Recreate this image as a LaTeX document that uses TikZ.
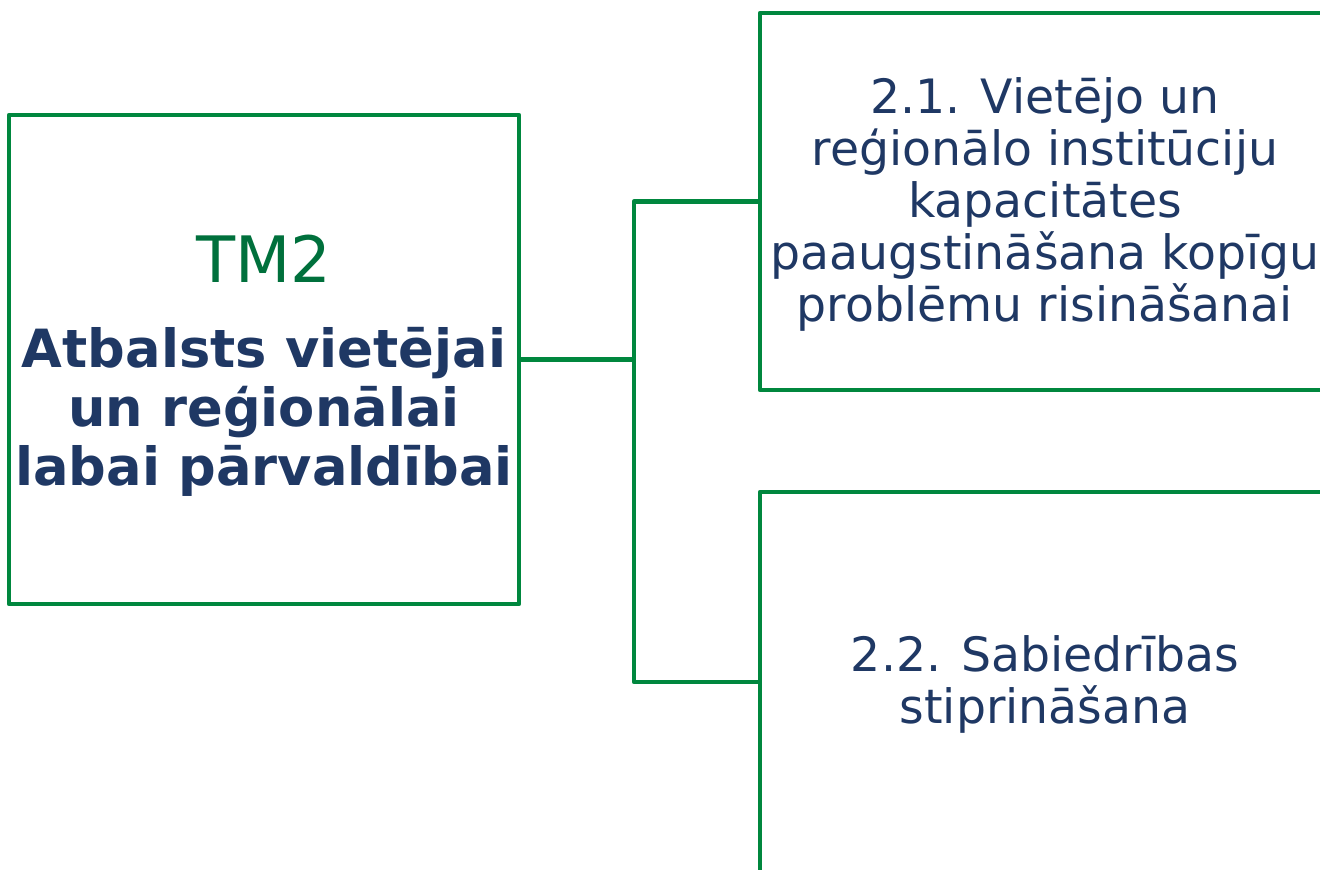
\documentclass[tikz,border=0pt]{standalone}
\usepackage{fontspec}
\setmainfont{DejaVu Sans}
\usepackage{xcolor}

\definecolor{tmgreen}{RGB}{0,135,62}
\definecolor{tmtitle}{RGB}{0,112,60}
\definecolor{tmnavy}{RGB}{31,56,100}

\tikzset{
    tmbox/.style={draw=tmgreen, line width=3.4pt, line join=round, align=center, inner sep=0pt},
    link/.style={draw=tmgreen, line width=3.4pt, line join=round},
}

\begin{document}
\begin{tikzpicture}[x=0.75pt,y=0.75pt,yscale=-1,xscale=1]
\useasboundingbox (0,0) rectangle (1320,869);

% main measure box
\node[tmbox, minimum width=382.5pt, minimum height=366.75pt] (tm) at (264,359.5) {};
% Text Node
\node[text=tmtitle, font=\fontsize{48}{56}\selectfont, inner sep=0pt] (tmlabel) at (264,259) {TM2};
% Text Node
\node[text=tmnavy, font=\bfseries\fontsize{39.5}{44}\selectfont, align=center, inner sep=0pt] (tmtext) at (264,412) {Atbalsts vietējai\\un reģionālai\\labai pārvaldībai};

% sub measures
\node[tmbox, minimum width=427.5pt, minimum height=282.75pt, text=tmnavy, font=\fontsize{35.5}{39}\selectfont] (m21) at (1045,201.5) {};
\node[text=tmnavy, font=\fontsize{35.5}{39}\selectfont, align=center, inner sep=0pt] (m21text) at (1045,204) {2.1. Vietējo un\\reģionālo institūciju\\kapacitātes\\paaugstināšana kopīgu\\problēmu risināšanai};
\node[tmbox, minimum width=427.5pt, minimum height=285pt] (m22) at (1045,682) {};
\node[text=tmnavy, font=\fontsize{35.5}{39}\selectfont, align=center, inner sep=0pt] (m22text) at (1045,684) {2.2. Sabiedrības\\stiprināšana};

% connectors
\coordinate (split) at (634,359.5);
\draw[link] (tm.east) -- (split);
\draw[link] (m21.west) -| (split) |- (m22.west);

\end{tikzpicture}
\end{document}
